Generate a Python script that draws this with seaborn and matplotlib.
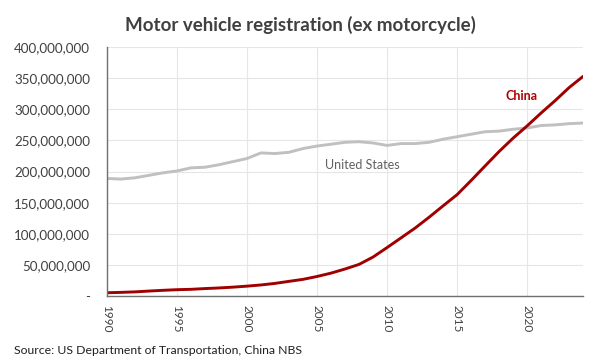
import pandas as pd
import matplotlib.pyplot as plt
import seaborn as sns
from matplotlib.ticker import FuncFormatter, MultipleLocator

# Data (vehicles, millions)
years = list(range(1990, 2025))
us_vehicles = [189, 188, 190, 194, 198, 201, 206, 207, 211, 216,
               221, 230, 229, 231, 237, 241, 244, 247, 248, 246,
               242, 245, 245, 247, 252, 256, 260, 264, 265, 268,
               270, 274, 275, 277, 278]
china_vehicles = [5.5, 6.1, 6.9, 8.2, 9.4, 10.4, 11.0, 12.2, 13.2, 14.5,
                  16.1, 18.0, 20.5, 23.8, 27.0, 31.6, 37.0, 43.6, 51.0, 62.8,
                  78.0, 93.6, 109.3, 126.7, 145.0, 163.0, 185.7, 209.1, 232.3, 253.8,
                  273.4, 294.2, 314.0, 335.0, 353.0]

df = pd.DataFrame({
    'year': years * 2,
    'vehicles': [v * 1e6 for v in us_vehicles + china_vehicles],
    'country': ['United States'] * len(years) + ['China'] * len(years),
})

sns.set_style('white')
plt.rcParams['font.family'] = ['Lato', 'DejaVu Sans']

fig = plt.figure(figsize=(6, 3.59), dpi=100)
ax = fig.add_axes([0.178, 0.175, 0.794, 0.694])

sns.lineplot(data=df, x='year', y='vehicles', hue='country',
             palette={'United States': '#c0c0c0', 'China': '#a00000'},
             linewidth=2.1, legend=False, ax=ax)

ax.set_xlim(1990, 2024)
ax.set_ylim(0, 400e6)
ax.xaxis.set_major_locator(MultipleLocator(5))
ax.yaxis.set_major_locator(MultipleLocator(50e6))
ax.yaxis.set_major_formatter(FuncFormatter(lambda v, p: '-' if v == 0 else f'{int(v):,}'))
ax.grid(True, color='#e6e6e6', linewidth=0.8)
ax.set_axisbelow(True)

for s in ['top', 'right']:
    ax.spines[s].set_visible(False)
for s in ['left', 'bottom']:
    ax.spines[s].set_color('#707070')
    ax.spines[s].set_linewidth(1.0)

ax.tick_params(axis='y', labelsize=9.6, colors='#404040', length=0, pad=12)
ax.tick_params(axis='x', labelsize=8.5, colors='#404040', length=0, pad=6)
plt.setp(ax.get_xticklabels(), rotation=270)
ax.set_xlabel('')
ax.set_ylabel('')

ax.text(2019.6, 322e6, 'China', color='#b00000', fontsize=9, fontweight='bold', ha='center', va='center')
ax.text(2008.2, 210e6, 'United States', color='#606060', fontsize=9, ha='center', va='center')

fig.text(0.5, 0.93, 'Motor vehicle registration (ex motorcycle)', ha='center', va='center',
         fontsize=13.5, fontweight='bold', color='#404040')
fig.text(0.023, 0.025, 'Source: US Department of Transportation, China NBS', ha='left', va='center',
         fontsize=8.8, color='#202020')

fig.savefig('out.png', dpi=100)
